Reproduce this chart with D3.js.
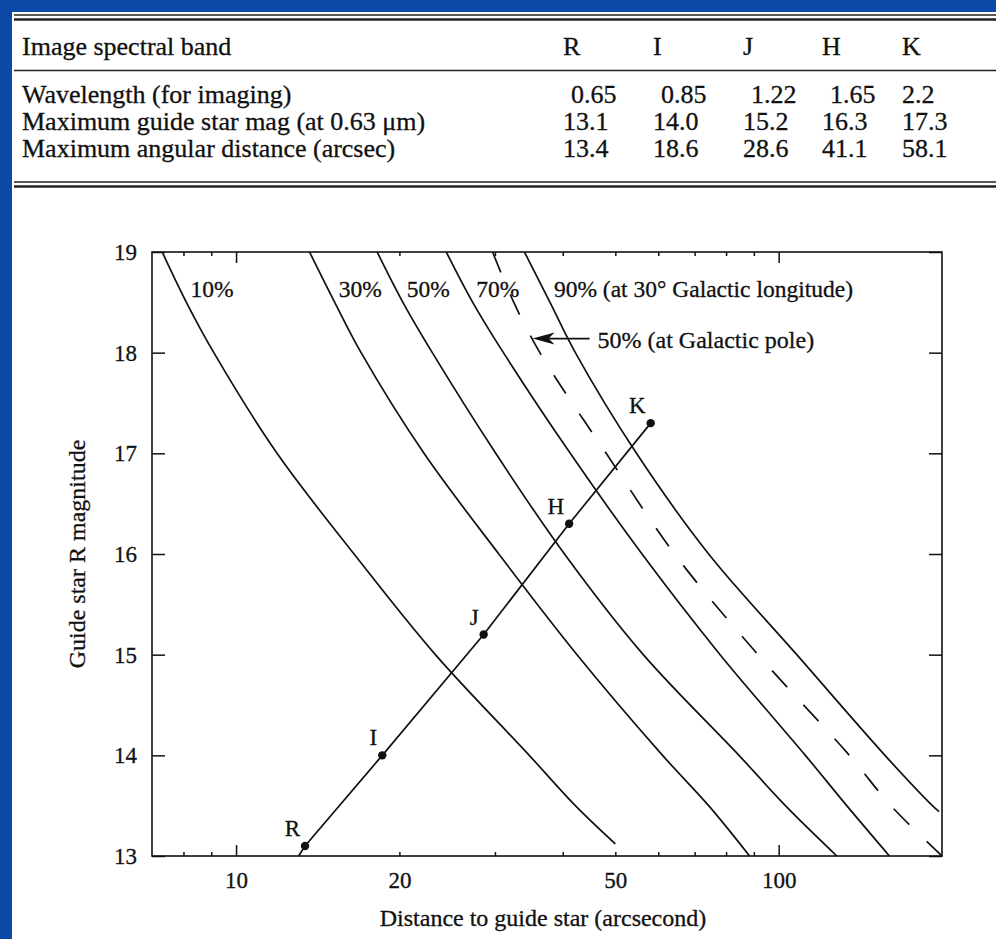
<!DOCTYPE html>
<html>
<head>
<meta charset="utf-8">
<script src="https://cdnjs.cloudflare.com/ajax/libs/d3/7.8.5/d3.min.js"></script>
<style>
  body { margin: 0; background: #0d47a8; }
  svg { display: block; }
  text { font-family: "Liberation Serif", "Times New Roman", serif; fill: #111; stroke: #111; stroke-width: 0.3px; }
</style>
</head>
<body>
<svg></svg>
<script>
// table values
var bands = ["R", "I", "J", "H", "K"]
var rowLabels = ["Wavelength (for imaging)", "Maximum guide star mag (at 0.63 \u03bcm)", "Maximum angular distance (arcsec)"]
var wavelength = ["0.65", "0.85", "1.22", "1.65", "2.2"]
var maxMag = [13.1, 14.0, 15.2, 16.3, 17.3]
var maxDist = [13.4, 18.6, 28.6, 41.1, 58.1]

// line through the band points, running down to the axis
var trackMag = [13.0, 13.1, 14.0, 15.2, 16.3, 17.3]
var trackDist = [13.04, 13.4, 18.6, 28.6, 41.1, 58.1]

// sky coverage curves (magnitude -> distance in arcsec)
var mag10 = [19, 18.5, 18, 17, 16, 15, 14, 13.5, 13.12]
var dist10 = [7.31, 8.1, 9.1, 11.9, 16.5, 23.3, 34.7, 42.2, 50]
var mag30 = [19, 18.5, 18, 17, 16, 15, 14, 13.5, 13]
var dist30 = [13.66, 15.2, 17.0, 22.2, 30.5, 42.5, 61.1, 74.3, 88.4]
var mag50 = [19, 18.5, 18, 17, 16, 15, 14, 13.5, 13]
var dist50 = [18.2, 20.3, 23.0, 30.1, 40.3, 56.3, 84.5, 102.9, 128]
var mag70 = [19, 18.5, 18, 17, 16, 15, 14, 13.5, 13]
var dist70 = [24.4, 27.3, 31.1, 41.3, 56.0, 78.0, 112, 133.5, 160]
var magPole = [19, 18.5, 18, 17, 16, 15, 14, 13.5, 13]
var distPole = [29.7, 32.5, 36.3, 48.1, 64.3, 91.6, 135, 161, 200]
var mag90 = [19, 18.5, 18, 17, 16, 15, 14, 13.5, 13.44]
var dist90 = [34.0, 37.9, 42.2, 54.7, 74.3, 108, 157, 192, 197.5]

var xLabels = [10, 20, 50, 100]
var xMajor = [10, 100]
var xMinor = [8, 9, 20, 30, 40, 50, 60, 70, 80, 90]
var yTicks = [13, 14, 15, 16, 17, 18, 19]

var W = 996, H = 939
var svg = d3.select("svg").attr("width", W).attr("height", H)

svg.append("rect").attr("width", W).attr("height", H).attr("fill", "#0d47a8")
svg.append("rect").attr("x", 12).attr("y", 12).attr("width", W - 12).attr("height", H - 12).attr("fill", "#fff")

// ---- table ----
var table = svg.append("g").style("font-size", "26px")
var colX = [563, 653, 743, 822, 902]
var rowY = [103, 130, 157]

function rule(yy, w) {
  table.append("line").attr("x1", 14).attr("x2", W).attr("y1", yy).attr("y2", yy)
    .attr("stroke", "#222").attr("stroke-width", w)
}
rule(15, 1.5); rule(19.5, 2.5)
rule(70.5, 1.5)
rule(182, 1.5); rule(186.5, 2.5)

table.append("text").attr("x", 22).attr("y", 55).text("Image spectral band")
table.selectAll(".hdr").data(bands).enter().append("text")
  .attr("x", function(d, i) { return colX[i] }).attr("y", 55)
  .text(function(d) { return d })

table.selectAll(".rl").data(rowLabels).enter().append("text")
  .attr("x", 22).attr("y", function(d, i) { return rowY[i] })
  .text(function(d) { return d })

var rows = [wavelength, maxMag.map(function(v) { return v.toFixed(1) }), maxDist.map(function(v) { return v.toFixed(1) })]
rows.forEach(function(r, j) {
  table.selectAll(".v" + j).data(r).enter().append("text")
    .attr("x", function(d, i) { return colX[i] + (j == 0 && i < 4 ? 8 : 0) })
    .attr("y", rowY[j]).text(function(d) { return d })
})

// ---- chart ----
var pLeft = 152, pRight = 942, pTop = 252, pBottom = 856
var x = d3.scaleLog().domain([7, 200]).range([pLeft, pRight])
var y = d3.scaleLinear().domain([13, 19]).range([pBottom, pTop])

var chart = svg.append("g")

svg.append("clipPath").attr("id", "plot").append("rect")
  .attr("x", pLeft).attr("y", pTop).attr("width", pRight - pLeft).attr("height", pBottom - pTop)

function styleAxis(g) {
  g.select(".domain").remove()
  g.attr("font-family", null).attr("font-size", null)
  g.selectAll("line").attr("stroke", "#111").attr("stroke-width", 1.5)
  g.selectAll("text").style("font-size", "23px").attr("fill", "#111")
}

chart.append("g").attr("transform", "translate(0," + pBottom + ")")
  .call(d3.axisBottom(x).tickValues(xLabels).tickFormat(d3.format("d")).tickSize(0).tickPadding(16))
  .call(styleAxis)
chart.append("g").attr("transform", "translate(0," + pBottom + ")")
  .call(d3.axisBottom(x).tickValues(xMajor).tickFormat("").tickSize(-11)).call(styleAxis)
chart.append("g").attr("transform", "translate(0," + pBottom + ")")
  .call(d3.axisBottom(x).tickValues(xMinor).tickFormat("").tickSize(-4)).call(styleAxis)
chart.append("g").attr("transform", "translate(0," + pTop + ")")
  .call(d3.axisTop(x).tickValues(xMajor).tickFormat("").tickSize(-11)).call(styleAxis)
chart.append("g").attr("transform", "translate(0," + pTop + ")")
  .call(d3.axisTop(x).tickValues(xMinor).tickFormat("").tickSize(-4)).call(styleAxis)

chart.append("g").attr("transform", "translate(" + pLeft + ",0)")
  .call(d3.axisLeft(y).tickValues(yTicks).tickFormat(d3.format("d")).tickSize(-13).tickPadding(15))
  .call(styleAxis)
chart.append("g").attr("transform", "translate(" + pRight + ",0)")
  .call(d3.axisRight(y).tickValues(yTicks).tickFormat("").tickSize(-13)).call(styleAxis)

chart.append("rect").attr("x", pLeft).attr("y", pTop).attr("width", pRight - pLeft).attr("height", pBottom - pTop)
  .attr("fill", "none").attr("stroke", "#111").attr("stroke-width", 1.6)

// axis titles
chart.append("text").attr("x", (pLeft + pRight) / 2 - 4).attr("y", 926)
  .attr("text-anchor", "middle").style("font-size", "24px").text("Distance to guide star (arcsecond)")
chart.append("text").attr("transform", "translate(85," + (pTop + pBottom) / 2 + ") rotate(-90)")
  .attr("text-anchor", "middle").style("font-size", "24px").text("Guide star R magnitude")

var curves = [
  { label: "10%", mag: mag10, dist: dist10, dash: false },
  { label: "30%", mag: mag30, dist: dist30, dash: false },
  { label: "50%", mag: mag50, dist: dist50, dash: false },
  { label: "70%", mag: mag70, dist: dist70, dash: false },
  { label: null, mag: magPole, dist: distPole, dash: true },
  { label: "90% (at 30\u00b0 Galactic longitude)", mag: mag90, dist: dist90, dash: false }
]

// distance on a curve at a given magnitude, interpolated in log space
function distAt(c, m) {
  for (var i = 0; i < c.mag.length - 1; i++) {
    if (m <= c.mag[i] && m >= c.mag[i + 1]) {
      var t = (c.mag[i] - m) / (c.mag[i] - c.mag[i + 1])
      return Math.pow(10, Math.log10(c.dist[i]) + t * (Math.log10(c.dist[i + 1]) - Math.log10(c.dist[i])))
    }
  }
  return c.dist[0]
}

var line = d3.line()
  .x(function(d) { return x(d[0]) })
  .y(function(d) { return y(d[1]) })
  .curve(d3.curveCatmullRom.alpha(0.5))

var plot = chart.append("g").attr("clip-path", "url(#plot)")
plot.selectAll(".curve").data(curves).enter().append("path")
  .attr("d", function(c) { return line(c.dist.map(function(d, i) { return [d, c.mag[i]] })) })
  .attr("fill", "none").attr("stroke", "#111").attr("stroke-width", 1.7)
  .attr("stroke-dasharray", function(c) { return c.dash ? "22,24" : null })

var labelMag = 18.62
chart.selectAll(".clab").data(curves.filter(function(c) { return c.label })).enter().append("text")
  .attr("x", function(c) { return x(distAt(c, labelMag)) + 10 })
  .attr("y", y(labelMag) + 7)
  .style("font-size", "23.5px")
  .text(function(c) { return c.label })

// arrow to the galactic pole curve
var arrowMag = 18.14
var tipX = x(distAt(curves[4], arrowMag)), ay = y(arrowMag)
chart.append("line").attr("x1", tipX + 8).attr("x2", tipX + 57).attr("y1", ay).attr("y2", ay)
  .attr("stroke", "#111").attr("stroke-width", 1.7)
chart.append("path")
  .attr("d", "M" + tipX + "," + ay + "L" + (tipX + 22) + "," + (ay - 6) + "L" + (tipX + 16) + "," + ay + "L" + (tipX + 22) + "," + (ay + 6) + "Z")
  .attr("fill", "#111")
chart.append("text").attr("x", tipX + 65).attr("y", ay + 9).style("font-size", "24px")
  .text("50% (at Galactic pole)")

// band points
var track = d3.line().x(function(d) { return x(d[0]) }).y(function(d) { return y(d[1]) })
plot.append("path").attr("d", track(trackDist.map(function(d, i) { return [d, trackMag[i]] })))
  .attr("fill", "none").attr("stroke", "#111").attr("stroke-width", 1.7)

chart.selectAll(".pt").data(bands).enter().append("circle")
  .attr("cx", function(d, i) { return x(maxDist[i]) })
  .attr("cy", function(d, i) { return y(maxMag[i]) })
  .attr("r", 4.2).attr("fill", "#111")

chart.selectAll(".plab").data(bands).enter().append("text")
  .attr("x", function(d, i) { return x(maxDist[i]) - 5 })
  .attr("y", function(d, i) { return y(maxMag[i]) - 10 })
  .attr("text-anchor", "end").style("font-size", "23px")
  .text(function(d) { return d })
</script>
</body>
</html>
